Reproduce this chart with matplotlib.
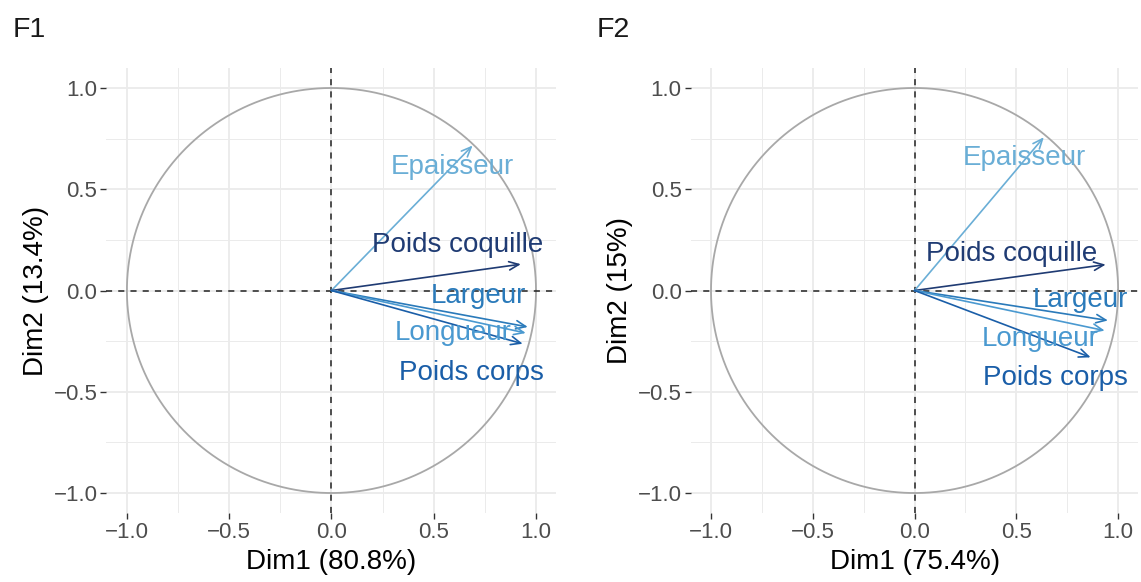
import numpy as np
import matplotlib
matplotlib.use("Agg")
import matplotlib.pyplot as plt
from matplotlib.ticker import MultipleLocator, FuncFormatter

plt.rcParams['font.family'] = ['Liberation Sans', 'DejaVu Sans']

# variables and their correlation coordinates (Dim1, Dim2)
variables = ["Epaisseur", "Poids coquille", "Largeur", "Longueur", "Poids corps"]
f1_dim1 = [0.69, 0.926, 0.96, 0.95, 0.935]
f1_dim2 = [0.716, 0.13, -0.18, -0.21, -0.263]
f2_dim1 = [0.635, 0.939, 0.95, 0.934, 0.865]
f2_dim2 = [0.757, 0.128, -0.148, -0.198, -0.33]
titles = ["F1", "F2"]
x_labels = ["Dim1 (80.8%)", "Dim1 (75.4%)"]
y_labels = ["Dim2 (13.4%)", "Dim2 (15%)"]

colors = {
    "Epaisseur": "#6aaed6",
    "Poids coquille": "#1f3b73",
    "Largeur": "#2a7aba",
    "Longueur": "#4a99d0",
    "Poids corps": "#1a5ea8",
}

# label placement (text centres, data units) -- layout only
label_pos = [
    [(0.592, 0.612), (0.616, 0.227), (0.719, -0.025), (0.597, -0.212), (0.685, -0.405)],
    [(0.541, 0.652), (0.477, 0.178), (0.816, -0.049), (0.619, -0.237), (0.693, -0.43)],
]


def fmt(v, pos):
    return ("%.1f" % v).replace("-", "\u2212")


fig = plt.figure(figsize=(11.41, 5.82), dpi=100)
axes = [fig.add_axes([0.0933, 0.1181, 0.3944, 0.7655]),
        fig.add_axes([0.6053, 0.1181, 0.3925, 0.7655])]

panels = [(f1_dim1, f1_dim2), (f2_dim1, f2_dim2)]
theta = np.linspace(0, 2 * np.pi, 400)

for i, ax in enumerate(axes):
    d1, d2 = panels[i]
    ax.set_xlim(-1.1, 1.1)
    ax.set_ylim(-1.1, 1.1)
    for s in ax.spines.values():
        s.set_visible(False)
    ax.xaxis.set_major_locator(MultipleLocator(0.5))
    ax.yaxis.set_major_locator(MultipleLocator(0.5))
    ax.xaxis.set_minor_locator(MultipleLocator(0.25))
    ax.yaxis.set_minor_locator(MultipleLocator(0.25))
    ax.xaxis.set_major_formatter(FuncFormatter(fmt))
    ax.yaxis.set_major_formatter(FuncFormatter(fmt))
    ax.grid(which='major', color='#ebebeb', linewidth=1.3)
    ax.grid(which='minor', color='#ebebeb', linewidth=0.7)
    ax.set_axisbelow(True)
    ax.tick_params(which='major', length=4.5, width=1.0, color='#333333',
                   labelsize=16, labelcolor='#4d4d4d', pad=2)
    ax.tick_params(which='minor', length=0)

    ax.plot(np.cos(theta), np.sin(theta), color='#a8a8a8', linewidth=1.3, zorder=2)
    ax.axhline(0, color='#222222', linestyle=(0, (4, 4)), linewidth=1.1, zorder=2)
    ax.axvline(0, color='#222222', linestyle=(0, (4, 4)), linewidth=1.1, zorder=2)

    for j, name in enumerate(variables):
        c = colors[name]
        ax.annotate("", xy=(d1[j], d2[j]), xytext=(0, 0),
                    arrowprops=dict(arrowstyle='->,head_length=0.7,head_width=0.3',
                                    color=c, linewidth=1.2, shrinkA=0, shrinkB=0),
                    zorder=3)
        lx, ly = label_pos[i][j]
        ax.text(lx, ly, name, color=c, fontsize=20, ha='center', va='center', zorder=4)

    ax.set_xlabel(x_labels[i], fontsize=20, labelpad=4)
    ax.set_ylabel(y_labels[i], fontsize=20, labelpad=3)

fig.text(0.011, 0.948, titles[0], fontsize=20.5, color='#1a1a1a', va='center', ha='left')
fig.text(0.523, 0.948, titles[1], fontsize=20.5, color='#1a1a1a', va='center', ha='left')

fig.savefig("out.png", dpi=100)
